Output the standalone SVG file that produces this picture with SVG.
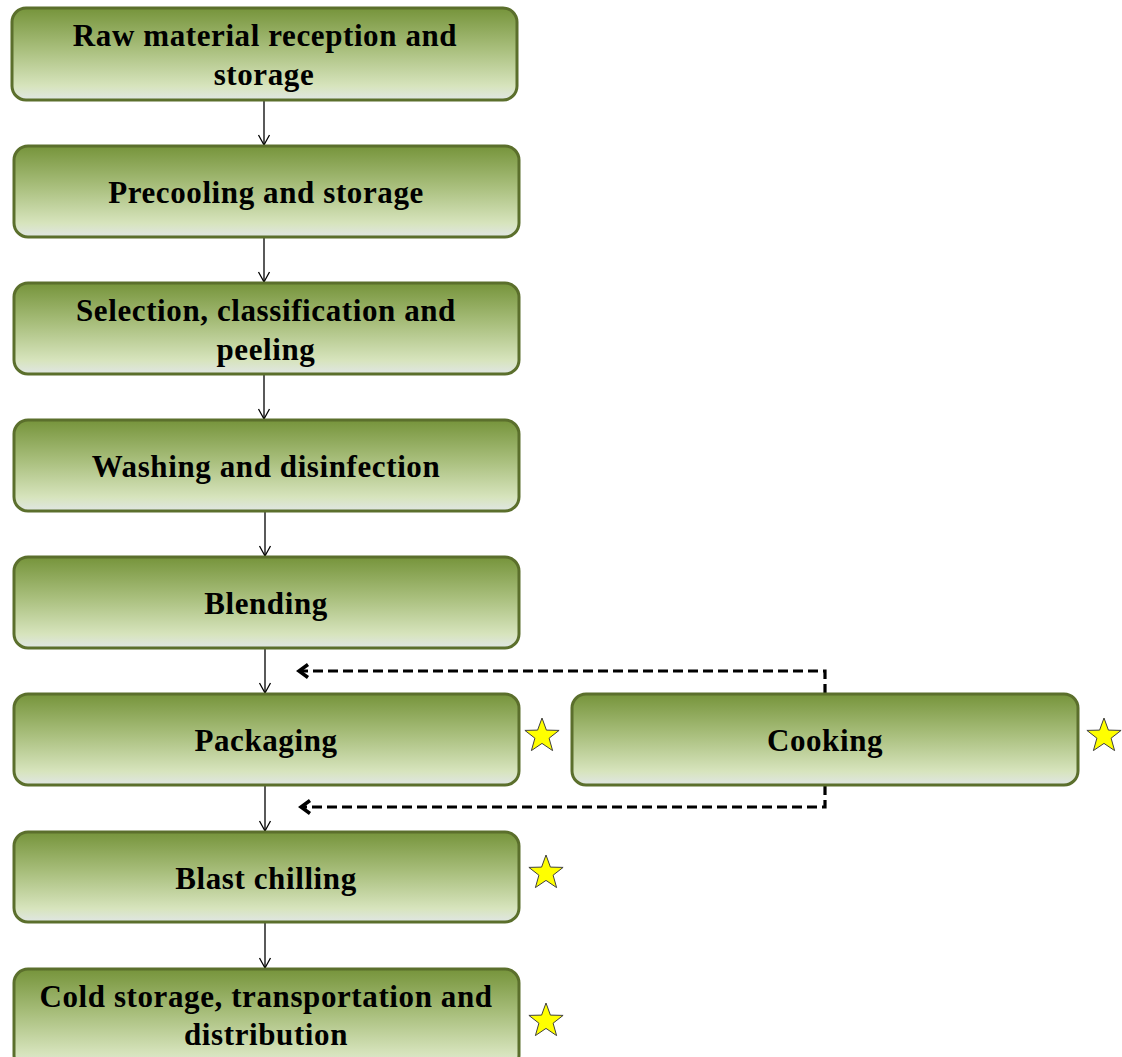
<svg xmlns="http://www.w3.org/2000/svg" width="1122" height="1057" viewBox="0 0 1122 1057">
<style>
.box{fill:url(#g);stroke:#5b6f2c;stroke-width:3}
.t{font-family:"Liberation Serif","Times New Roman",serif;font-weight:bold;font-size:31px;letter-spacing:0.6px;fill:#000;text-anchor:middle}
.c{stroke:#000;stroke-width:1.3;fill:none}
.d{stroke:#000;stroke-width:3.2;fill:none;stroke-dasharray:10 5}
.star{fill:#ffff00;stroke:#404040;stroke-width:1}
</style>
<defs>
<linearGradient id="g" x1="0" y1="0" x2="0" y2="1">
<stop offset="0" stop-color="#76943b"/>
<stop offset="0.45" stop-color="#a9bf7d"/>
<stop offset="0.85" stop-color="#d7e4bd"/>
<stop offset="1" stop-color="#e0e6e4"/>
</linearGradient>
<marker id="a" markerWidth="14" markerHeight="14" refX="12" refY="7" orient="auto" markerUnits="userSpaceOnUse" viewBox="0 0 14 14">
<path d="M2,1.5 L12,7 L2,12.5" fill="none" stroke="#000" stroke-width="1.3"/>
</marker>
<marker id="b" markerWidth="18" markerHeight="18" refX="15" refY="9" orient="auto" markerUnits="userSpaceOnUse" viewBox="0 0 18 18">
<path d="M6,2.5 L15,9 L6,15.5" fill="none" stroke="#000" stroke-width="3.5"/>
</marker>
<polygon id="s" class="star" points="0,-18 4.4,-5.9 17.1,-5.6 7.1,2.2 10.6,14.6 0,7.4 -10.6,14.6 -7.1,2.2 -17.1,-5.6 -4.4,-5.9"/>
</defs>
<g id="connectors">
<line class="c" x1="264" y1="100" x2="264" y2="145" marker-end="url(#a)"/>
<line class="c" x1="264" y1="237" x2="264" y2="282" marker-end="url(#a)"/>
<line class="c" x1="264" y1="374" x2="264" y2="419" marker-end="url(#a)"/>
<line class="c" x1="265" y1="511" x2="265" y2="556" marker-end="url(#a)"/>
<line class="c" x1="265" y1="648" x2="265" y2="693" marker-end="url(#a)"/>
<line class="c" x1="265" y1="785" x2="265" y2="831" marker-end="url(#a)"/>
<line class="c" x1="265" y1="922" x2="265" y2="968" marker-end="url(#a)"/>
<polyline class="d" points="825,694 825,671 299,671" marker-end="url(#b)"/>
<polyline class="d" points="825,785 825,807 301,807" marker-end="url(#b)"/>
</g>
<g id="n1"><rect class="box" x="12" y="8" width="505" height="92" rx="14"/><text class="t" x="265" y="46">Raw material reception and</text><text class="t" x="264" y="85">storage</text></g>
<g id="n2"><rect class="box" x="14" y="146" width="505" height="91" rx="14"/><text class="t" x="266" y="203">Precooling and storage</text></g>
<g id="n3"><rect class="box" x="14" y="283" width="505" height="91" rx="14"/><text class="t" x="266" y="321">Selection, classification and</text><text class="t" x="266" y="360">peeling</text></g>
<g id="n4"><rect class="box" x="14" y="420" width="505" height="91" rx="14"/><text class="t" x="266" y="477">Washing and disinfection</text></g>
<g id="n5"><rect class="box" x="14" y="557" width="505" height="91" rx="14"/><text class="t" x="266" y="614">Blending</text></g>
<g id="n6"><rect class="box" x="14" y="694" width="505" height="91" rx="14"/><text class="t" x="266" y="751">Packaging</text><use href="#s" x="542" y="736"/></g>
<g id="n7"><rect class="box" x="572" y="694" width="506" height="91" rx="14"/><text class="t" x="825" y="751">Cooking</text><use href="#s" x="1104" y="736"/></g>
<g id="n8"><rect class="box" x="14" y="832" width="505" height="90" rx="14"/><text class="t" x="266" y="889">Blast chilling</text><use href="#s" x="546" y="873"/></g>
<g id="n9"><rect class="box" x="14" y="969" width="505" height="100" rx="14"/><text class="t" x="266" y="1007">Cold storage, transportation and</text><text class="t" x="266" y="1045">distribution</text><use href="#s" x="546" y="1021"/></g>
</svg>
